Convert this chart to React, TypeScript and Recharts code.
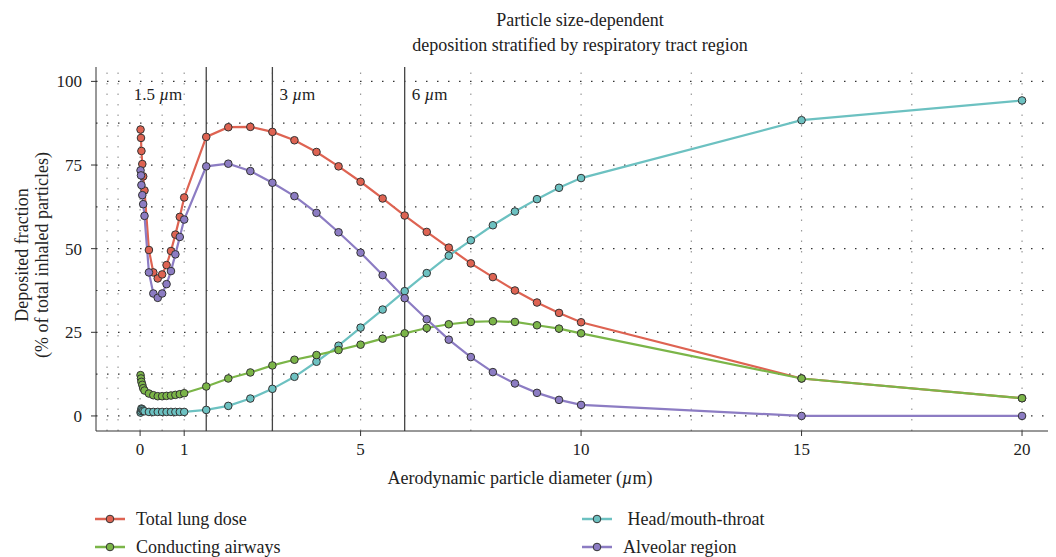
import { LineChart, Line, XAxis, YAxis, ReferenceLine } from "recharts";

// particle diameters (µm)
const diameters = [
  0.01, 0.02, 0.03, 0.05, 0.07, 0.1, 0.2, 0.3, 0.4, 0.5, 0.6, 0.7, 0.8, 0.9, 1.0,
  1.5, 2.0, 2.5, 3.0, 3.5, 4.0, 4.5, 5.0, 5.5, 6.0, 6.5, 7.0, 7.5, 8.0, 8.5, 9.0, 9.5, 10,
  15, 20,
];

const totalLung = [
  85.6, 83.1, 79.2, 75.3, 71.6, 67.4, 49.6, 42.9, 41.1, 42.3, 45.1, 49.3, 54.2, 59.5, 65.3,
  83.4, 86.3, 86.4, 84.9, 82.4, 78.9, 74.6, 70.0, 65.0, 59.9, 55.0, 50.3, 45.6, 41.5, 37.5, 33.9, 30.8, 28.0,
  11.2, 5.3,
];
const headThroat = [
  1.0, 1.5, 2.2, 2.0, 1.6, 1.4, 1.2, 1.2, 1.2, 1.2, 1.2, 1.2, 1.2, 1.2, 1.2,
  1.8, 3.0, 5.2, 8.1, 11.7, 16.2, 21.0, 26.4, 31.8, 37.3, 42.7, 47.9, 52.5, 57.0, 61.1, 64.8, 68.2, 71.1,
  88.4, 94.3,
];
const conducting = [
  12.2, 11.2, 10.2, 9.3, 8.3, 7.6, 6.7, 6.2, 5.9, 5.9, 6.0, 6.1, 6.3, 6.5, 6.8,
  8.8, 11.2, 13.0, 15.1, 16.8, 18.2, 19.7, 21.3, 23.1, 24.7, 26.3, 27.4, 28.1, 28.3, 28.1, 27.1, 26.1, 24.7,
  11.2, 5.3,
];
const alveolar = [
  73.4, 71.9, 69.0, 66.0, 63.3, 59.8, 42.9, 36.6, 35.3, 36.6, 39.4, 43.3, 48.3, 53.5, 58.7,
  74.6, 75.4, 73.2, 69.7, 65.7, 60.7, 54.9, 48.8, 42.1, 35.2, 28.9, 22.8, 17.6, 13.1, 9.7, 6.9, 4.8, 3.3,
  0.0, 0.0,
];

const xTicks = [0, 1, 5, 10, 15, 20];
const yTicks = [0, 25, 50, 75, 100];
const gridX = [-0.75, -0.5, 0, 0.5, 1, 3, 5, 7.5, 10, 12.5, 15, 17.5, 20];
const gridY = [0, 12.5, 25, 37.5, 50, 62.5, 75, 87.5, 100];
const cutoffs = [1.5, 3, 6];

const series = [
  { key: "total", name: "Total lung dose", color: "#DE6352" },
  { key: "head", name: "Head/mouth-throat", color: "#6CC1C1" },
  { key: "conducting", name: "Conducting airways", color: "#7BB548" },
  { key: "alveolar", name: "Alveolar region", color: "#8C7CC3" },
];

const data = diameters.map((x, i) => ({
  x,
  total: totalLung[i],
  head: headThroat[i],
  conducting: conducting[i],
  alveolar: alveolar[i],
}));

const FONT = "'Liberation Serif', 'Times New Roman', serif";
const INK = "#333";

function CutoffLabel({ viewBox, value }: any) {
  const left = value === 1.5;
  return (
    <text
      x={left ? viewBox.x - 24 : viewBox.x + 7}
      y={viewBox.y + 33}
      textAnchor={left ? "end" : "start"}
      fontFamily={FONT}
      fontSize={17}
      fill="#222"
    >
      {value} <tspan fontStyle="italic">µ</tspan>m
    </text>
  );
}

function YLabel({ viewBox }: any) {
  const cy = viewBox.y + viewBox.height / 2 + 6;
  return (
    <g fontFamily={FONT} fontSize={18} fill="#222" textAnchor="middle">
      <text x={28} y={cy} transform={`rotate(-90, 28, ${cy})`}>Deposited fraction</text>
      <text x={48} y={cy} transform={`rotate(-90, 48, ${cy})`}>(% of total inhaled particles)</text>
    </g>
  );
}

function XLabel({ viewBox }: any) {
  return (
    <text x={520} y={viewBox.y + 53} textAnchor="middle" fontFamily={FONT} fontSize={18} fill="#222">
      Aerodynamic particle diameter (<tspan fontStyle="italic">µ</tspan>m)
    </text>
  );
}

function LegendItem({ name, color }: { name: string; color: string }) {
  return (
    <div style={{ display: "flex", alignItems: "center", height: 28 }}>
      <svg width={32} height={12} style={{ marginRight: 10 }}>
        <line x1={1} y1={6} x2={31} y2={6} stroke={color} strokeWidth={2.5} />
        <circle cx={16} cy={6} r={3.8} fill={color} stroke={INK} strokeWidth={1} />
      </svg>
      <span style={{ fontFamily: FONT, fontSize: 18, lineHeight: "22px", color: "#222", whiteSpace: "pre" }}>{name}</span>
    </div>
  );
}

export default function App() {
  return (
    <div style={{ position: "relative", width: 1064, height: 565, margin: -8, background: "#fff" }}>
      <div
        style={{
          position: "absolute",
          left: 280,
          width: 600,
          top: 8,
          textAlign: "center",
          fontFamily: FONT,
          fontSize: 18,
          lineHeight: "25px",
          color: "#222",
        }}
      >
        Particle size-dependent
        <br />
        deposition stratified by respiratory tract region
      </div>
      <div style={{ position: "absolute", left: 0, top: 0 }}>
        <LineChart width={1056} height={557} data={data} margin={{ top: 67, right: 0, left: 0, bottom: 86 }}>
          {gridX.map((v) => (
            <ReferenceLine key={`gx${v}`} x={v} stroke="#9a9a9a" strokeWidth={1.2} strokeDasharray="1.5 9" />
          ))}
          {gridY.map((v) => (
            <ReferenceLine key={`gy${v}`} y={v} stroke="#333" strokeWidth={1.2} strokeDasharray="1.5 9.5" />
          ))}
          {cutoffs.map((v) => (
            <ReferenceLine
              key={`c${v}`}
              x={v}
              stroke="#444"
              strokeWidth={1.3}
              label={(p: any) => <CutoffLabel {...p} value={v} />}
            />
          ))}
          <XAxis
            type="number"
            dataKey="x"
            domain={[-1, 20.77]}
            ticks={xTicks}
            allowDataOverflow
            height={40}
            stroke={INK}
            tickSize={5}
            tickMargin={7}
            tick={{ fill: "#222", fontFamily: FONT, fontSize: 17 }}
            label={(p: any) => <XLabel {...p} />}
          />
          <YAxis
            type="number"
            domain={[-4.5, 104.3]}
            ticks={yTicks}
            allowDataOverflow
            width={96}
            stroke={INK}
            tickSize={5}
            tickMargin={9}
            tick={{ fill: "#222", fontFamily: FONT, fontSize: 17 }}
            label={(p: any) => <YLabel {...p} />}
          />
          {series.map((s) => (
            <Line
              key={s.key}
              type="linear"
              dataKey={s.key}
              name={s.name}
              stroke={s.color}
              strokeWidth={2.2}
              dot={{ r: 3.8, fill: s.color, stroke: INK, strokeWidth: 1 }}
              isAnimationActive={false}
            />
          ))}
        </LineChart>
      </div>
      <div style={{ position: "absolute", left: 94, top: 505 }}>
        <LegendItem name={series[0].name} color={series[0].color} />
        <LegendItem name={series[2].name} color={series[2].color} />
      </div>
      <div style={{ position: "absolute", left: 581, top: 505 }}>
        <LegendItem name={" " + series[1].name} color={series[1].color} />
        <LegendItem name={series[3].name} color={series[3].color} />
      </div>
    </div>
  );
}
